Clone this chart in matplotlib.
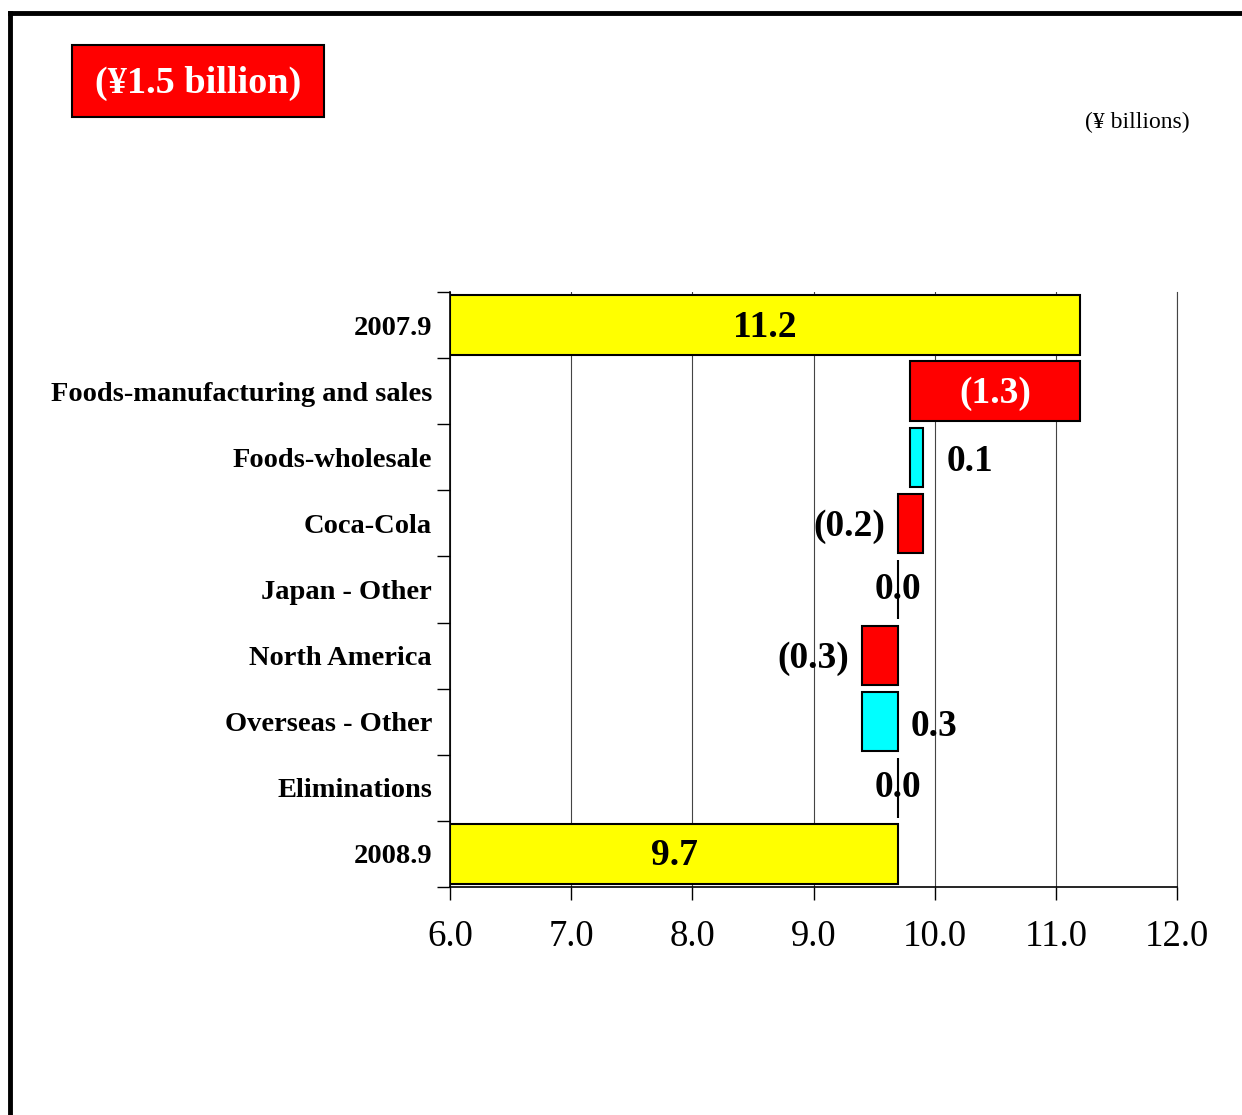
import matplotlib
matplotlib.use("Agg")
import matplotlib.pyplot as plt
from matplotlib.lines import Line2D
from matplotlib.patches import Rectangle

plt.rcParams['font.family'] = ['Liberation Serif', 'DejaVu Serif']

categories = ["2007.9", "Foods-manufacturing and sales", "Foods-wholesale", "Coca-Cola",
              "Japan - Other", "North America", "Overseas - Other", "Eliminations", "2008.9"]
start_total = 11.2
end_total = 9.7
changes = [-1.4, 0.1, -0.2, 0.0, -0.3, 0.3, 0.0]
labels = ["11.2", "(1.3)", "0.1", "(0.2)", "0.0", "(0.3)", "0.3", "0.0", "9.7"]
xticks = [6.0, 7.0, 8.0, 9.0, 10.0, 11.0, 12.0]
base = 6.0

fig = plt.figure(figsize=(12.42, 11.15), dpi=100)
ax = fig.add_axes([450/1242, 1-887/1115, 727/1242, 595/1115])

h = 0.9
ec = 'black'
lw = 1.5
fs_val = 27
# totals
ax.barh(0, start_total - base, left=base, height=h, color='#FFFF00', edgecolor=ec, linewidth=lw, zorder=3)
ax.barh(8, end_total - base, left=base, height=h, color='#FFFF00', edgecolor=ec, linewidth=lw, zorder=3)
ax.text((base + start_total)/2, 0.03, labels[0], ha='center', va='center', fontsize=fs_val, fontweight='bold', zorder=5)
ax.text((base + end_total)/2, 8.03, labels[8], ha='center', va='center', fontsize=fs_val, fontweight='bold', zorder=5)

cur = start_total
for i, d in enumerate(changes):
    y = i + 1
    new = cur + d
    left = min(cur, new)
    width = abs(d)
    color = '#FF0000' if d < 0 else '#00FFFF'
    ax.barh(y, width, left=left, height=h, color=color, edgecolor=ec, linewidth=lw, zorder=3)
    lab = labels[i + 1]
    if width < 1e-9:
        ax.text(left, y + 0.0, lab, ha='center', va='center', fontsize=fs_val, fontweight='bold', zorder=5)
    elif width > 1.0:
        ax.text(left + width/2, y + 0.03, lab, ha='center', va='center', fontsize=fs_val,
                fontweight='bold', color='white', zorder=5)
    elif d < 0:
        ax.text(left - 0.11, y + 0.05, lab, ha='right', va='center', fontsize=fs_val, fontweight='bold', zorder=5)
    else:
        ax.text(left + width + 0.1 + (0.1 if width < 0.15 else 0), y + 0.07, lab, ha='left', va='center',
                fontsize=fs_val, fontweight='bold', zorder=5)
    cur = new

ax.set_xlim(6, 12)
ax.set_ylim(8.5, -0.5)
ax.set_xticks(xticks)
ax.set_xticklabels([f"{v:.1f}" for v in xticks], fontsize=26.5)
ax.set_yticks(range(len(categories)))
ax.set_yticklabels(categories, fontsize=20.5, fontweight='bold')
ax.set_yticks([i - 0.5 for i in range(len(categories) + 1)], minor=True)
ax.tick_params(axis='y', which='major', length=0, pad=13)
ax.tick_params(axis='y', which='minor', length=9.5, width=1)
ax.tick_params(axis='x', which='major', length=9.5, width=1, pad=14)
ax.grid(axis='x', color='#444444', linewidth=0.8, zorder=0)
ax.spines['top'].set_visible(False)
ax.spines['right'].set_color('#444444')
ax.spines['right'].set_linewidth(0.8)
ax.spines['left'].set_linewidth(1.2)
ax.spines['bottom'].set_linewidth(1.2)
ax.set_axisbelow(True)

# frame lines
fig.add_artist(Line2D([10/1242, 1.0], [1-13/1115, 1-13/1115], color='black', linewidth=3.5))
fig.add_artist(Line2D([10/1242, 10/1242], [0, 1-13/1115], color='black', linewidth=3.5))

# red box
fig.add_artist(Rectangle((72/1242, 1-117/1115), 252/1242, 72/1115, facecolor='#FF0000',
                         edgecolor='black', linewidth=1.5, transform=fig.transFigure))
fig.text(198/1242, 1-83/1115, "(¥1.5 billion)", ha='center', va='center', fontsize=27.5,
         fontweight='bold', color='white')
fig.text(1190/1242, 1-122/1115, "(¥ billions)", ha='right', va='center', fontsize=17)

fig.savefig("out.png", dpi=100)
